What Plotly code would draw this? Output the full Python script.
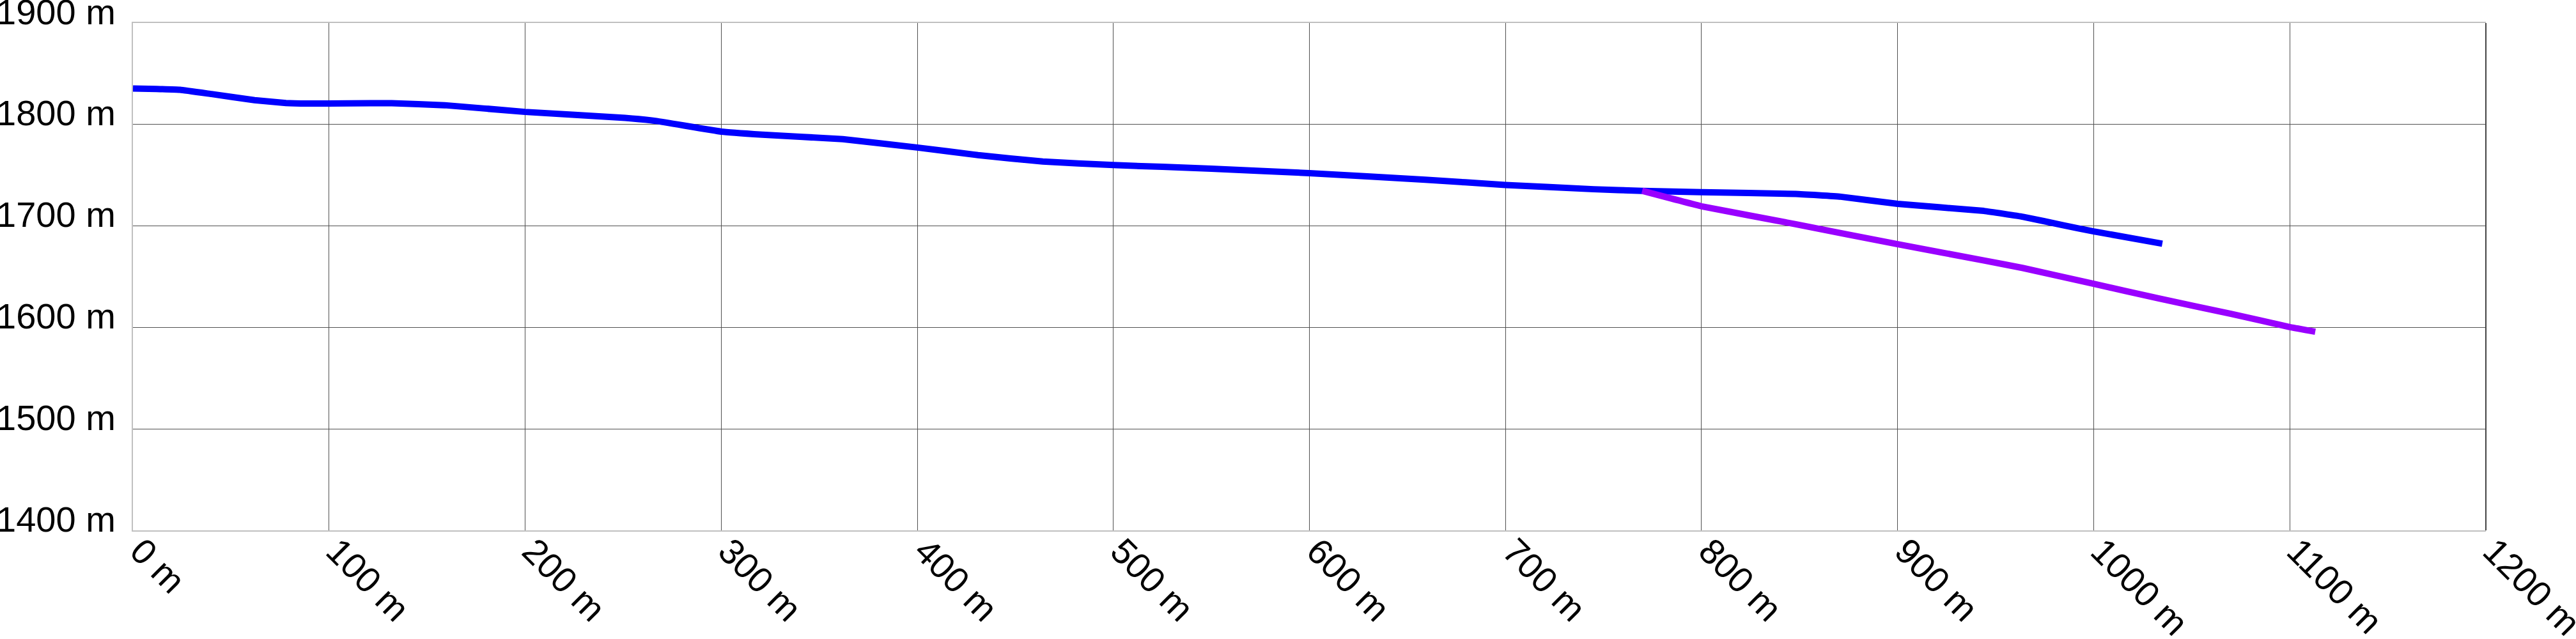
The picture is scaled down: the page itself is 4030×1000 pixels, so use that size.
import plotly.graph_objects as go

# Blue profile (distance m, elevation m)
blue_x = [0, 12, 24, 40, 62, 78, 89, 110, 132, 159, 200, 251, 267, 300, 321, 362,
          400, 431, 464, 500, 550, 600, 659, 700, 745, 770, 800, 848, 871, 900,
          944, 964, 985, 1000, 1035]
blue_y = [1835.5, 1835, 1834.2, 1830, 1824, 1821.2, 1820.6, 1820.8, 1821, 1819,
          1812.4, 1806.5, 1803.4, 1793, 1790, 1785.5, 1777.3, 1769.8, 1763.5, 1760,
          1756.5, 1752, 1745.6, 1740.4, 1736.2, 1734.5, 1733.3, 1731.5, 1728.8,
          1721.8, 1714.8, 1709, 1700.5, 1694.6, 1682.5]

# Purple profile
purple_x = [769.7, 800, 848, 900, 944, 964, 1000, 1033, 1070, 1100, 1113]
purple_y = [1734.6, 1719.4, 1701.7, 1682, 1666, 1658.5, 1643, 1628.6, 1613.4,
            1600.4, 1595.8]

x_tickvals = [0, 100, 200, 300, 400, 500, 600, 700, 800, 900, 1000, 1100, 1200]
x_ticktext = ["0 m", "100 m", "200 m", "300 m", "400 m", "500 m", "600 m",
              "700 m", "800 m", "900 m", "1000 m", "1100 m", "1200 m"]
y_tickvals = [1400, 1500, 1600, 1700, 1800, 1900]
y_ticktext = ["1400 m", "1500 m", "1600 m", "1700 m", "1800 m", "1900 m"]

FONT = dict(family="Liberation Sans, Arial, sans-serif", size=56, color="#000000")

fig = go.Figure()
fig.add_trace(go.Scatter(x=blue_x, y=blue_y, mode="lines",
                         line=dict(color="#0000ff", width=10, shape="spline", smoothing=0.3),
                         hoverinfo="skip", showlegend=False))
fig.add_trace(go.Scatter(x=purple_x, y=purple_y, mode="lines",
                         line=dict(color="#9900ff", width=10, shape="spline", smoothing=0.3),
                         hoverinfo="skip", showlegend=False))

fig.update_layout(
    template="none",
    width=4030, height=1000,
    margin=dict(l=208, r=141, t=36, b=170, pad=0),
    paper_bgcolor="#ffffff", plot_bgcolor="#ffffff",
    font=FONT,
    showlegend=False,
    shapes=[dict(type="line", xref="paper", yref="paper", x0=1, x1=1, y0=0, y1=1,
                 line=dict(color="#444444", width=2), layer="above")],
)
fig.update_xaxes(range=[-0.01, 1200.01], tickvals=x_tickvals, ticktext=x_ticktext,
                 tickangle=45, showgrid=True, gridcolor="#505050", gridwidth=1,
                 zeroline=False, showline=True, mirror=True, linecolor="#c0c0c0",
                 linewidth=2, ticks="", automargin=False, tickfont=FONT,
                 ticklabelstandoff=-25, ticklabelshift=12, ticklabeloverflow="allow")
fig.update_yaxes(range=[1399.99, 1900.01], tickvals=y_tickvals, ticktext=y_ticktext,
                 showgrid=True, gridcolor="#505050", gridwidth=1,
                 zeroline=False, showline=True, linecolor="#c0c0c0", linewidth=2,
                 ticks="", automargin=False, tickfont=FONT, ticklabelshift=-18,
                 ticklabelstandoff=14, ticklabeloverflow="allow")

fig.write_html("out.html", config={"displayModeBar": False},
               post_script="document.body.style.margin='0';")
